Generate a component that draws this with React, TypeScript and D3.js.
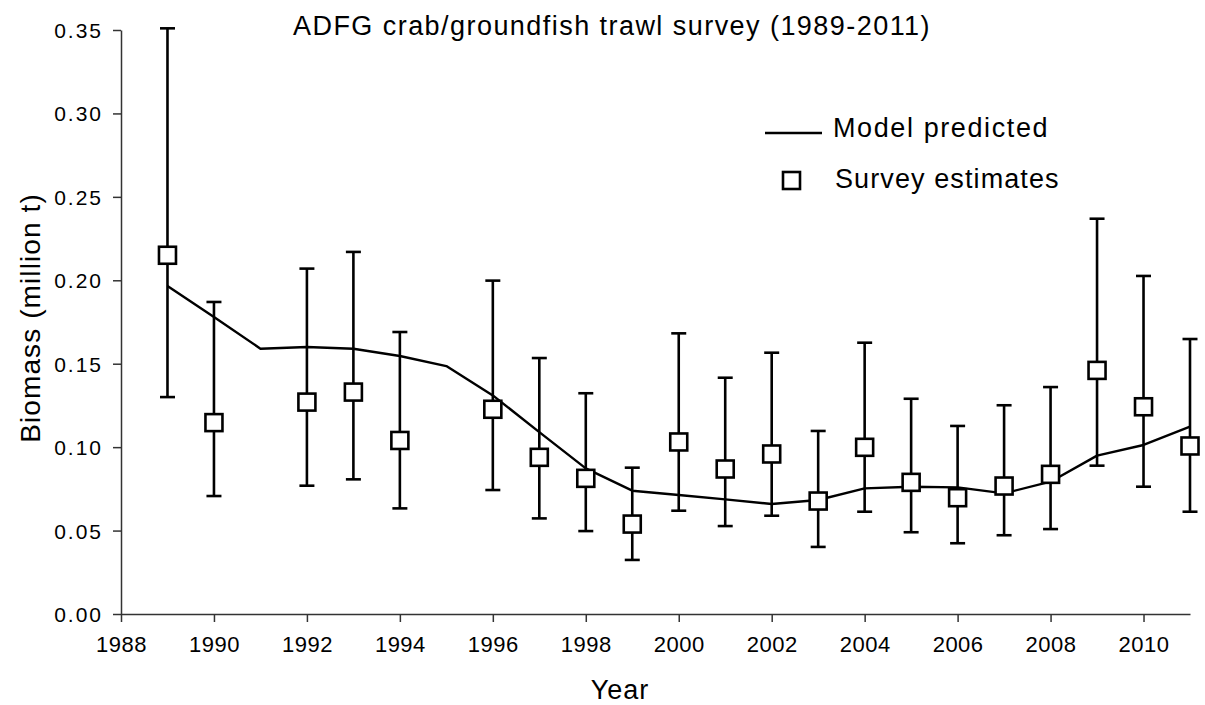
import React, { useEffect, useRef } from 'react';
import * as d3 from 'd3';

const modelYears = [1989, 1990, 1991, 1992, 1993, 1994, 1995, 1996, 1997, 1998, 1999, 2000, 2001, 2002, 2003, 2004, 2005, 2006, 2007, 2008, 2009, 2010, 2011];
const modelPredicted = [0.1966, 0.178, 0.159, 0.160, 0.159, 0.1546, 0.1486, 0.131, 0.109, 0.0873, 0.0739, 0.0713, 0.0687, 0.0659, 0.0683, 0.0753, 0.0763, 0.0759, 0.0723, 0.0793, 0.0949, 0.1013, 0.1123];

const surveyYears = [1989, 1990, 1992, 1993, 1994, 1996, 1997, 1998, 1999, 2000, 2001, 2002, 2003, 2004, 2005, 2006, 2007, 2008, 2009, 2010, 2011];
const surveyEstimates = [0.215, 0.1147, 0.127, 0.133, 0.104, 0.1227, 0.0939, 0.0813, 0.0539, 0.1031, 0.0869, 0.0959, 0.0677, 0.0999, 0.0789, 0.0697, 0.0767, 0.0837, 0.146, 0.1242, 0.1007];
const surveyUpper = [0.351, 0.187, 0.207, 0.217, 0.169, 0.1998, 0.1534, 0.1323, 0.0877, 0.1682, 0.1416, 0.1566, 0.1097, 0.1626, 0.129, 0.1127, 0.1251, 0.136, 0.2369, 0.2026, 0.1648];
const surveyLower = [0.130, 0.0707, 0.0769, 0.0807, 0.0633, 0.0743, 0.0573, 0.0497, 0.0324, 0.0619, 0.0527, 0.0589, 0.0402, 0.0613, 0.049, 0.0424, 0.0472, 0.0509, 0.0889, 0.0763, 0.0613];

const xTicks = [1988, 1990, 1992, 1994, 1996, 1998, 2000, 2002, 2004, 2006, 2008, 2010];
const yTicks = [0, 0.05, 0.1, 0.15, 0.2, 0.25, 0.3, 0.35];

const titleText = 'ADFG crab/groundfish trawl survey (1989-2011)';
const xLabel = 'Year';
const yLabel = 'Biomass (million t)';
const legendLabels = ['Model predicted', 'Survey estimates'];

const FONT = '"Liberation Sans", Arial, sans-serif';

export default function App() {
  const xAxisRef = useRef<SVGGElement>(null);
  const yAxisRef = useRef<SVGGElement>(null);

  const x = d3.scaleLinear().domain([1988, 2011]).range([121, 1190]);
  const y = d3.scaleLinear().domain([0, 0.35]).range([614, 30]);

  useEffect(() => {
    const xa = d3.select(xAxisRef.current!);
    xa.selectAll('*').remove();
    xa.call(
      d3.axisBottom(x).tickValues(xTicks).tickFormat(d3.format('d')).tickSize(8).tickSizeOuter(0).tickPadding(14)
    );
    xa.select('.domain').attr('stroke', '#333').attr('stroke-width', 1.5);
    xa.selectAll('.tick line').attr('stroke', '#333').attr('stroke-width', 1.5);
    xa.selectAll('.tick text')
      .attr('font-family', FONT)
      .attr('font-size', 22)
      .attr('letter-spacing', 0.5)
      .attr('fill', '#000')
      .attr('dy', '0.71em');

    const ya = d3.select(yAxisRef.current!);
    ya.selectAll('*').remove();
    ya.call(
      d3.axisLeft(y).tickValues(yTicks).tickFormat(d3.format('.2f')).tickSize(8).tickSizeOuter(0).tickPadding(10)
    );
    ya.select('.domain').attr('stroke', '#333').attr('stroke-width', 1.5);
    ya.selectAll('.tick line').attr('stroke', '#333').attr('stroke-width', 1.5);
    ya.selectAll('.tick text')
      .attr('font-family', FONT)
      .attr('font-size', 21)
      .attr('letter-spacing', 2)
      .attr('fill', '#000')
      .attr('dy', '0.36em');
  }, []);

  const line = d3
    .line<number>()
    .x((_, i) => x(modelYears[i]))
    .y((d) => y(d));

  const capHalf = 7.5;
  const sq = 17;
  const sw = 2.6;

  return (
    <svg
      width={1205}
      height={705}
      style={{ position: 'absolute', left: 0, top: 0, background: '#fff' }}
    >
      <rect x={0} y={0} width={1205} height={705} fill="#fff" />
      <text x={612} y={35} textAnchor="middle" fontFamily={FONT} fontSize={27} letterSpacing={1.45} fill="#000">
        {titleText}
      </text>
      <g ref={xAxisRef} transform={`translate(0,${y(0)})`} />
      <g ref={yAxisRef} transform={`translate(${x(1988)},0)`} />
      <text x={620} y={699} textAnchor="middle" fontFamily={FONT} fontSize={27} letterSpacing={1} fill="#000">
        {xLabel}
      </text>
      <text
        transform={`translate(40,318) rotate(-90)`}
        textAnchor="middle"
        fontFamily={FONT}
        fontSize={28}
        letterSpacing={1.1}
        fill="#000"
      >
        {yLabel}
      </text>

      <path d={line(modelPredicted) || ''} fill="none" stroke="#000" strokeWidth={2.4} strokeLinejoin="round" />

      <g>
        {surveyYears.map((yr, i) => (
          <g key={yr}>
            <line x1={x(yr)} x2={x(yr)} y1={y(surveyUpper[i])} y2={y(surveyLower[i])} stroke="#000" strokeWidth={sw} />
            <line x1={x(yr) - capHalf} x2={x(yr) + capHalf} y1={y(surveyUpper[i])} y2={y(surveyUpper[i])} stroke="#000" strokeWidth={sw} />
            <line x1={x(yr) - capHalf} x2={x(yr) + capHalf} y1={y(surveyLower[i])} y2={y(surveyLower[i])} stroke="#000" strokeWidth={sw} />
          </g>
        ))}
      </g>
      <g>
        {surveyYears.map((yr, i) => (
          <rect
            key={yr}
            x={x(yr) - sq / 2}
            y={y(surveyEstimates[i]) - sq / 2}
            width={sq}
            height={sq}
            fill="#fff"
            stroke="#000"
            strokeWidth={sw}
          />
        ))}
      </g>

      <g>
        <line x1={765} x2={822} y1={133} y2={133} stroke="#000" strokeWidth={2.4} />
        <text x={833} y={137} fontFamily={FONT} fontSize={27} letterSpacing={1.6} fill="#000">
          {legendLabels[0]}
        </text>
        <rect x={783} y={172} width={sq} height={sq} fill="#fff" stroke="#000" strokeWidth={sw} />
        <text x={835} y={188} fontFamily={FONT} fontSize={27} letterSpacing={1.1} fill="#000">
          {legendLabels[1]}
        </text>
      </g>
    </svg>
  );
}
